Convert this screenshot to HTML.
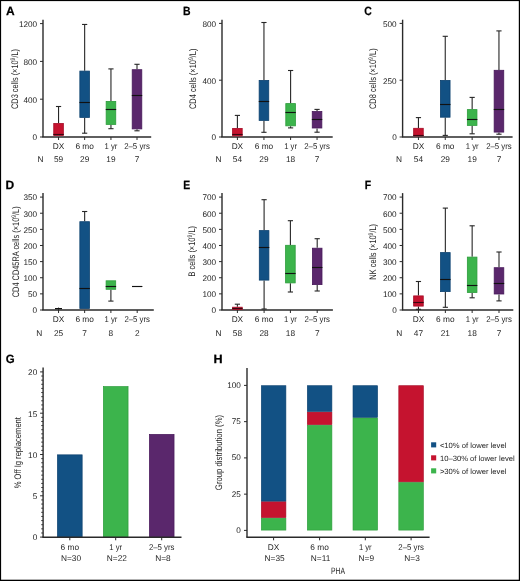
<!DOCTYPE html>
<html><head><meta charset="utf-8"><style>
html,body{margin:0;padding:0;background:#fff;}
#fig{position:relative;width:520px;height:581px;overflow:hidden;background:#fff;}
svg{position:absolute;left:0;top:0;will-change:transform;}
text{font-family:"Liberation Sans", sans-serif;text-rendering:geometricPrecision;}
</style></head><body>
<div id="fig"><svg width="520" height="581" viewBox="0 0 520 581">
<text transform="translate(6.00,15.1) scale(1.0,1)" font-size="12" font-weight="bold" fill="#000" stroke="#000" stroke-width="0.25">A</text>
<line x1="43.00" y1="19.70" x2="43.00" y2="137.00" stroke="#2a2a2a" stroke-width="1.4"/>
<line x1="40.00" y1="137.00" x2="43.00" y2="137.00" stroke="#2a2a2a" stroke-width="1.0"/>
<text x="37.10" y="140.36" font-size="8.2" text-anchor="end" font-weight="normal" fill="#1e1e1e">0</text>
<line x1="40.00" y1="99.20" x2="43.00" y2="99.20" stroke="#2a2a2a" stroke-width="1.0"/>
<text x="37.10" y="102.56" font-size="8.2" text-anchor="end" font-weight="normal" fill="#1e1e1e">400</text>
<line x1="40.00" y1="61.40" x2="43.00" y2="61.40" stroke="#2a2a2a" stroke-width="1.0"/>
<text x="37.10" y="64.76" font-size="8.2" text-anchor="end" font-weight="normal" fill="#1e1e1e">800</text>
<line x1="40.00" y1="23.60" x2="43.00" y2="23.60" stroke="#2a2a2a" stroke-width="1.0"/>
<text x="37.10" y="26.96" font-size="8.2" text-anchor="end" font-weight="normal" fill="#1e1e1e">1200</text>
<line x1="42.30" y1="137.00" x2="151.20" y2="137.00" stroke="#2a2a2a" stroke-width="1.4"/>
<line x1="58.55" y1="137.00" x2="58.55" y2="140.00" stroke="#2a2a2a" stroke-width="1.0"/>
<line x1="84.65" y1="137.00" x2="84.65" y2="140.00" stroke="#2a2a2a" stroke-width="1.0"/>
<line x1="110.95" y1="137.00" x2="110.95" y2="140.00" stroke="#2a2a2a" stroke-width="1.0"/>
<line x1="137.00" y1="137.00" x2="137.00" y2="140.00" stroke="#2a2a2a" stroke-width="1.0"/>
<line x1="58.55" y1="106.50" x2="58.55" y2="123.10" stroke="#262626" stroke-width="1.1"/>
<line x1="55.95" y1="106.50" x2="61.15" y2="106.50" stroke="#262626" stroke-width="1.1"/>
<rect x="53.75" y="123.50" width="9.60" height="12.00" fill="#c5132f" stroke="#a50b25" stroke-width="0.8"/>
<line x1="53.35" y1="134.50" x2="63.75" y2="134.50" stroke="#3a0610" stroke-width="1.15"/>
<line x1="84.65" y1="24.45" x2="84.65" y2="70.70" stroke="#262626" stroke-width="1.1"/>
<line x1="82.05" y1="24.45" x2="87.25" y2="24.45" stroke="#262626" stroke-width="1.1"/>
<line x1="84.65" y1="117.80" x2="84.65" y2="133.20" stroke="#262626" stroke-width="1.1"/>
<line x1="82.05" y1="133.20" x2="87.25" y2="133.20" stroke="#262626" stroke-width="1.1"/>
<rect x="79.85" y="71.10" width="9.60" height="46.30" fill="#125184" stroke="#0c416f" stroke-width="0.8"/>
<line x1="79.45" y1="102.50" x2="89.85" y2="102.50" stroke="#111" stroke-width="1.15"/>
<line x1="110.95" y1="68.90" x2="110.95" y2="101.00" stroke="#262626" stroke-width="1.1"/>
<line x1="108.35" y1="68.90" x2="113.55" y2="68.90" stroke="#262626" stroke-width="1.1"/>
<line x1="110.95" y1="124.80" x2="110.95" y2="128.70" stroke="#262626" stroke-width="1.1"/>
<line x1="108.35" y1="128.70" x2="113.55" y2="128.70" stroke="#262626" stroke-width="1.1"/>
<rect x="106.15" y="101.40" width="9.60" height="23.00" fill="#3cb44c" stroke="#2c9c3b" stroke-width="0.8"/>
<line x1="105.75" y1="109.50" x2="116.15" y2="109.50" stroke="#111" stroke-width="1.15"/>
<line x1="137.00" y1="64.30" x2="137.00" y2="69.30" stroke="#262626" stroke-width="1.1"/>
<line x1="134.40" y1="64.30" x2="139.60" y2="64.30" stroke="#262626" stroke-width="1.1"/>
<line x1="137.00" y1="129.30" x2="137.00" y2="130.80" stroke="#262626" stroke-width="1.1"/>
<line x1="134.40" y1="130.80" x2="139.60" y2="130.80" stroke="#262626" stroke-width="1.1"/>
<rect x="132.20" y="69.70" width="9.60" height="59.20" fill="#5a276c" stroke="#48195a" stroke-width="0.8"/>
<line x1="131.80" y1="95.50" x2="142.20" y2="95.50" stroke="#111" stroke-width="1.15"/>
<text x="58.55" y="149.40" font-size="8.3" text-anchor="middle" font-weight="normal" fill="#1e1e1e">DX</text>
<text x="84.65" y="149.40" font-size="8.3" text-anchor="middle" font-weight="normal" fill="#1e1e1e">6 mo</text>
<text x="110.95" y="149.40" font-size="8.3" text-anchor="middle" font-weight="normal" fill="#1e1e1e" textLength="12.8" lengthAdjust="spacingAndGlyphs">1 yr</text>
<text x="137.00" y="149.40" font-size="8.3" text-anchor="middle" font-weight="normal" fill="#1e1e1e" textLength="25.6" lengthAdjust="spacingAndGlyphs">2–5 yrs</text>
<text x="43.60" y="161.70" font-size="8.3" text-anchor="end" font-weight="normal" fill="#1e1e1e">N</text>
<text x="58.55" y="161.70" font-size="8.3" text-anchor="middle" font-weight="normal" fill="#1e1e1e">59</text>
<text x="84.65" y="161.70" font-size="8.3" text-anchor="middle" font-weight="normal" fill="#1e1e1e">29</text>
<text x="110.95" y="161.70" font-size="8.3" text-anchor="middle" font-weight="normal" fill="#1e1e1e">19</text>
<text x="137.00" y="161.70" font-size="8.3" text-anchor="middle" font-weight="normal" fill="#1e1e1e">7</text>
<text transform="translate(17.9,79.0) rotate(-90)" font-size="9.5" text-anchor="middle" fill="#1e1e1e" textLength="60" lengthAdjust="spacingAndGlyphs">CD3 cells (×10<tspan dy="-3.0" font-size="6.46">9</tspan><tspan dy="3.0">/L)</tspan></text>
<text transform="translate(182.90,15.1) scale(0.87,1)" font-size="12" font-weight="bold" fill="#000" stroke="#000" stroke-width="0.25">B</text>
<line x1="222.00" y1="19.70" x2="222.00" y2="137.00" stroke="#2a2a2a" stroke-width="1.4"/>
<line x1="219.00" y1="137.00" x2="222.00" y2="137.00" stroke="#2a2a2a" stroke-width="1.0"/>
<text x="216.10" y="140.36" font-size="8.2" text-anchor="end" font-weight="normal" fill="#1e1e1e">0</text>
<line x1="219.00" y1="80.20" x2="222.00" y2="80.20" stroke="#2a2a2a" stroke-width="1.0"/>
<text x="216.10" y="83.56" font-size="8.2" text-anchor="end" font-weight="normal" fill="#1e1e1e">400</text>
<line x1="219.00" y1="23.40" x2="222.00" y2="23.40" stroke="#2a2a2a" stroke-width="1.0"/>
<text x="216.10" y="26.76" font-size="8.2" text-anchor="end" font-weight="normal" fill="#1e1e1e">800</text>
<line x1="221.30" y1="137.00" x2="332.70" y2="137.00" stroke="#2a2a2a" stroke-width="1.4"/>
<line x1="237.40" y1="137.00" x2="237.40" y2="140.00" stroke="#2a2a2a" stroke-width="1.0"/>
<line x1="263.95" y1="137.00" x2="263.95" y2="140.00" stroke="#2a2a2a" stroke-width="1.0"/>
<line x1="290.60" y1="137.00" x2="290.60" y2="140.00" stroke="#2a2a2a" stroke-width="1.0"/>
<line x1="317.05" y1="137.00" x2="317.05" y2="140.00" stroke="#2a2a2a" stroke-width="1.0"/>
<line x1="237.40" y1="115.40" x2="237.40" y2="128.00" stroke="#262626" stroke-width="1.1"/>
<line x1="234.80" y1="115.40" x2="240.00" y2="115.40" stroke="#262626" stroke-width="1.1"/>
<rect x="232.60" y="128.40" width="9.60" height="7.50" fill="#c5132f" stroke="#a50b25" stroke-width="0.8"/>
<line x1="232.20" y1="134.50" x2="242.60" y2="134.50" stroke="#3a0610" stroke-width="1.15"/>
<line x1="263.95" y1="22.50" x2="263.95" y2="80.00" stroke="#262626" stroke-width="1.1"/>
<line x1="261.35" y1="22.50" x2="266.55" y2="22.50" stroke="#262626" stroke-width="1.1"/>
<line x1="263.95" y1="120.80" x2="263.95" y2="132.30" stroke="#262626" stroke-width="1.1"/>
<line x1="261.35" y1="132.30" x2="266.55" y2="132.30" stroke="#262626" stroke-width="1.1"/>
<rect x="259.15" y="80.40" width="9.60" height="40.00" fill="#125184" stroke="#0c416f" stroke-width="0.8"/>
<line x1="258.75" y1="101.50" x2="269.15" y2="101.50" stroke="#111" stroke-width="1.15"/>
<line x1="290.60" y1="70.50" x2="290.60" y2="103.20" stroke="#262626" stroke-width="1.1"/>
<line x1="288.00" y1="70.50" x2="293.20" y2="70.50" stroke="#262626" stroke-width="1.1"/>
<line x1="290.60" y1="126.25" x2="290.60" y2="127.90" stroke="#262626" stroke-width="1.1"/>
<line x1="288.00" y1="127.90" x2="293.20" y2="127.90" stroke="#262626" stroke-width="1.1"/>
<rect x="285.80" y="103.60" width="9.60" height="22.25" fill="#3cb44c" stroke="#2c9c3b" stroke-width="0.8"/>
<line x1="285.40" y1="112.50" x2="295.80" y2="112.50" stroke="#111" stroke-width="1.15"/>
<line x1="317.05" y1="109.40" x2="317.05" y2="111.15" stroke="#262626" stroke-width="1.1"/>
<line x1="314.45" y1="109.40" x2="319.65" y2="109.40" stroke="#262626" stroke-width="1.1"/>
<line x1="317.05" y1="128.40" x2="317.05" y2="132.20" stroke="#262626" stroke-width="1.1"/>
<line x1="314.45" y1="132.20" x2="319.65" y2="132.20" stroke="#262626" stroke-width="1.1"/>
<rect x="312.25" y="111.55" width="9.60" height="16.45" fill="#5a276c" stroke="#48195a" stroke-width="0.8"/>
<line x1="311.85" y1="119.50" x2="322.25" y2="119.50" stroke="#111" stroke-width="1.15"/>
<text x="237.40" y="149.40" font-size="8.3" text-anchor="middle" font-weight="normal" fill="#1e1e1e">DX</text>
<text x="263.95" y="149.40" font-size="8.3" text-anchor="middle" font-weight="normal" fill="#1e1e1e">6 mo</text>
<text x="290.60" y="149.40" font-size="8.3" text-anchor="middle" font-weight="normal" fill="#1e1e1e" textLength="12.8" lengthAdjust="spacingAndGlyphs">1 yr</text>
<text x="317.05" y="149.40" font-size="8.3" text-anchor="middle" font-weight="normal" fill="#1e1e1e" textLength="25.6" lengthAdjust="spacingAndGlyphs">2–5 yrs</text>
<text x="221.60" y="161.70" font-size="8.3" text-anchor="end" font-weight="normal" fill="#1e1e1e">N</text>
<text x="237.40" y="161.70" font-size="8.3" text-anchor="middle" font-weight="normal" fill="#1e1e1e">54</text>
<text x="263.95" y="161.70" font-size="8.3" text-anchor="middle" font-weight="normal" fill="#1e1e1e">29</text>
<text x="290.60" y="161.70" font-size="8.3" text-anchor="middle" font-weight="normal" fill="#1e1e1e">18</text>
<text x="317.05" y="161.70" font-size="8.3" text-anchor="middle" font-weight="normal" fill="#1e1e1e">7</text>
<text transform="translate(196.3,78.8) rotate(-90)" font-size="9.5" text-anchor="middle" fill="#1e1e1e" textLength="60.4" lengthAdjust="spacingAndGlyphs">CD4 cells (×10<tspan dy="-3.0" font-size="6.46">9</tspan><tspan dy="3.0">/L)</tspan></text>
<text transform="translate(364.30,15.1) scale(0.87,1)" font-size="12" font-weight="bold" fill="#000" stroke="#000" stroke-width="0.25">C</text>
<line x1="402.60" y1="19.70" x2="402.60" y2="137.00" stroke="#2a2a2a" stroke-width="1.4"/>
<line x1="399.60" y1="137.00" x2="402.60" y2="137.00" stroke="#2a2a2a" stroke-width="1.0"/>
<text x="396.70" y="140.36" font-size="8.2" text-anchor="end" font-weight="normal" fill="#1e1e1e">0</text>
<line x1="399.60" y1="80.20" x2="402.60" y2="80.20" stroke="#2a2a2a" stroke-width="1.0"/>
<text x="396.70" y="83.56" font-size="8.2" text-anchor="end" font-weight="normal" fill="#1e1e1e">250</text>
<line x1="399.60" y1="23.40" x2="402.60" y2="23.40" stroke="#2a2a2a" stroke-width="1.0"/>
<text x="396.70" y="26.76" font-size="8.2" text-anchor="end" font-weight="normal" fill="#1e1e1e">500</text>
<line x1="401.90" y1="137.00" x2="512.60" y2="137.00" stroke="#2a2a2a" stroke-width="1.4"/>
<line x1="418.45" y1="137.00" x2="418.45" y2="140.00" stroke="#2a2a2a" stroke-width="1.0"/>
<line x1="445.25" y1="137.00" x2="445.25" y2="140.00" stroke="#2a2a2a" stroke-width="1.0"/>
<line x1="472.15" y1="137.00" x2="472.15" y2="140.00" stroke="#2a2a2a" stroke-width="1.0"/>
<line x1="498.95" y1="137.00" x2="498.95" y2="140.00" stroke="#2a2a2a" stroke-width="1.0"/>
<line x1="418.45" y1="117.60" x2="418.45" y2="127.90" stroke="#262626" stroke-width="1.1"/>
<line x1="415.85" y1="117.60" x2="421.05" y2="117.60" stroke="#262626" stroke-width="1.1"/>
<rect x="413.65" y="128.30" width="9.60" height="7.60" fill="#c5132f" stroke="#a50b25" stroke-width="0.8"/>
<line x1="413.25" y1="135.50" x2="423.65" y2="135.50" stroke="#3a0610" stroke-width="1.15"/>
<line x1="445.25" y1="36.30" x2="445.25" y2="80.00" stroke="#262626" stroke-width="1.1"/>
<line x1="442.65" y1="36.30" x2="447.85" y2="36.30" stroke="#262626" stroke-width="1.1"/>
<line x1="445.25" y1="117.60" x2="445.25" y2="135.40" stroke="#262626" stroke-width="1.1"/>
<line x1="442.65" y1="135.40" x2="447.85" y2="135.40" stroke="#262626" stroke-width="1.1"/>
<rect x="440.45" y="80.40" width="9.60" height="36.80" fill="#125184" stroke="#0c416f" stroke-width="0.8"/>
<line x1="440.05" y1="104.50" x2="450.45" y2="104.50" stroke="#111" stroke-width="1.15"/>
<line x1="472.15" y1="97.40" x2="472.15" y2="109.20" stroke="#262626" stroke-width="1.1"/>
<line x1="469.55" y1="97.40" x2="474.75" y2="97.40" stroke="#262626" stroke-width="1.1"/>
<line x1="472.15" y1="125.80" x2="472.15" y2="133.80" stroke="#262626" stroke-width="1.1"/>
<line x1="469.55" y1="133.80" x2="474.75" y2="133.80" stroke="#262626" stroke-width="1.1"/>
<rect x="467.35" y="109.60" width="9.60" height="15.80" fill="#3cb44c" stroke="#2c9c3b" stroke-width="0.8"/>
<line x1="466.95" y1="119.50" x2="477.35" y2="119.50" stroke="#111" stroke-width="1.15"/>
<line x1="498.95" y1="30.90" x2="498.95" y2="69.90" stroke="#262626" stroke-width="1.1"/>
<line x1="496.35" y1="30.90" x2="501.55" y2="30.90" stroke="#262626" stroke-width="1.1"/>
<line x1="498.95" y1="132.50" x2="498.95" y2="134.20" stroke="#262626" stroke-width="1.1"/>
<line x1="496.35" y1="134.20" x2="501.55" y2="134.20" stroke="#262626" stroke-width="1.1"/>
<rect x="494.15" y="70.30" width="9.60" height="61.80" fill="#5a276c" stroke="#48195a" stroke-width="0.8"/>
<line x1="493.75" y1="109.50" x2="504.15" y2="109.50" stroke="#111" stroke-width="1.15"/>
<text x="418.45" y="149.40" font-size="8.3" text-anchor="middle" font-weight="normal" fill="#1e1e1e">DX</text>
<text x="445.25" y="149.40" font-size="8.3" text-anchor="middle" font-weight="normal" fill="#1e1e1e">6 mo</text>
<text x="472.15" y="149.40" font-size="8.3" text-anchor="middle" font-weight="normal" fill="#1e1e1e" textLength="12.8" lengthAdjust="spacingAndGlyphs">1 yr</text>
<text x="498.95" y="149.40" font-size="8.3" text-anchor="middle" font-weight="normal" fill="#1e1e1e" textLength="25.6" lengthAdjust="spacingAndGlyphs">2–5 yrs</text>
<text x="401.90" y="161.70" font-size="8.3" text-anchor="end" font-weight="normal" fill="#1e1e1e">N</text>
<text x="418.45" y="161.70" font-size="8.3" text-anchor="middle" font-weight="normal" fill="#1e1e1e">54</text>
<text x="445.25" y="161.70" font-size="8.3" text-anchor="middle" font-weight="normal" fill="#1e1e1e">29</text>
<text x="472.15" y="161.70" font-size="8.3" text-anchor="middle" font-weight="normal" fill="#1e1e1e">19</text>
<text x="498.95" y="161.70" font-size="8.3" text-anchor="middle" font-weight="normal" fill="#1e1e1e">7</text>
<text transform="translate(376.3,78.7) rotate(-90)" font-size="9.5" text-anchor="middle" fill="#1e1e1e" textLength="60.7" lengthAdjust="spacingAndGlyphs">CD8 cells (×10<tspan dy="-3.0" font-size="6.46">9</tspan><tspan dy="3.0">/L)</tspan></text>
<text transform="translate(5.50,189.3) scale(1.0,1)" font-size="12" font-weight="bold" fill="#000" stroke="#000" stroke-width="0.25">D</text>
<line x1="43.00" y1="193.10" x2="43.00" y2="310.00" stroke="#2a2a2a" stroke-width="1.4"/>
<line x1="40.00" y1="310.00" x2="43.00" y2="310.00" stroke="#2a2a2a" stroke-width="1.0"/>
<text x="37.10" y="313.36" font-size="8.2" text-anchor="end" font-weight="normal" fill="#1e1e1e">0</text>
<line x1="40.00" y1="293.87" x2="43.00" y2="293.87" stroke="#2a2a2a" stroke-width="1.0"/>
<text x="37.10" y="297.23" font-size="8.2" text-anchor="end" font-weight="normal" fill="#1e1e1e">50</text>
<line x1="40.00" y1="277.74" x2="43.00" y2="277.74" stroke="#2a2a2a" stroke-width="1.0"/>
<text x="37.10" y="281.10" font-size="8.2" text-anchor="end" font-weight="normal" fill="#1e1e1e">100</text>
<line x1="40.00" y1="261.61" x2="43.00" y2="261.61" stroke="#2a2a2a" stroke-width="1.0"/>
<text x="37.10" y="264.98" font-size="8.2" text-anchor="end" font-weight="normal" fill="#1e1e1e">150</text>
<line x1="40.00" y1="245.49" x2="43.00" y2="245.49" stroke="#2a2a2a" stroke-width="1.0"/>
<text x="37.10" y="248.85" font-size="8.2" text-anchor="end" font-weight="normal" fill="#1e1e1e">200</text>
<line x1="40.00" y1="229.36" x2="43.00" y2="229.36" stroke="#2a2a2a" stroke-width="1.0"/>
<text x="37.10" y="232.72" font-size="8.2" text-anchor="end" font-weight="normal" fill="#1e1e1e">250</text>
<line x1="40.00" y1="213.23" x2="43.00" y2="213.23" stroke="#2a2a2a" stroke-width="1.0"/>
<text x="37.10" y="216.59" font-size="8.2" text-anchor="end" font-weight="normal" fill="#1e1e1e">300</text>
<line x1="40.00" y1="197.10" x2="43.00" y2="197.10" stroke="#2a2a2a" stroke-width="1.0"/>
<text x="37.10" y="200.46" font-size="8.2" text-anchor="end" font-weight="normal" fill="#1e1e1e">350</text>
<line x1="42.30" y1="310.00" x2="153.80" y2="310.00" stroke="#2a2a2a" stroke-width="1.4"/>
<line x1="58.55" y1="310.00" x2="58.55" y2="313.00" stroke="#2a2a2a" stroke-width="1.0"/>
<line x1="84.65" y1="310.00" x2="84.65" y2="313.00" stroke="#2a2a2a" stroke-width="1.0"/>
<line x1="110.90" y1="310.00" x2="110.90" y2="313.00" stroke="#2a2a2a" stroke-width="1.0"/>
<line x1="137.20" y1="310.00" x2="137.20" y2="313.00" stroke="#2a2a2a" stroke-width="1.0"/>
<line x1="84.65" y1="211.50" x2="84.65" y2="221.30" stroke="#262626" stroke-width="1.1"/>
<line x1="82.05" y1="211.50" x2="87.25" y2="211.50" stroke="#262626" stroke-width="1.1"/>
<rect x="79.85" y="221.70" width="9.60" height="86.80" fill="#125184" stroke="#0c416f" stroke-width="0.8"/>
<line x1="79.45" y1="288.50" x2="89.85" y2="288.50" stroke="#111" stroke-width="1.15"/>
<line x1="110.90" y1="289.70" x2="110.90" y2="301.10" stroke="#262626" stroke-width="1.1"/>
<line x1="108.30" y1="301.10" x2="113.50" y2="301.10" stroke="#262626" stroke-width="1.1"/>
<rect x="106.10" y="280.80" width="9.60" height="8.50" fill="#3cb44c" stroke="#2c9c3b" stroke-width="0.8"/>
<line x1="105.70" y1="286.50" x2="116.10" y2="286.50" stroke="#111" stroke-width="1.15"/>
<line x1="132.00" y1="286.50" x2="142.40" y2="286.50" stroke="#111" stroke-width="1.15"/>
<text x="58.55" y="322.00" font-size="8.3" text-anchor="middle" font-weight="normal" fill="#1e1e1e">DX</text>
<text x="84.65" y="322.00" font-size="8.3" text-anchor="middle" font-weight="normal" fill="#1e1e1e">6 mo</text>
<text x="110.90" y="322.00" font-size="8.3" text-anchor="middle" font-weight="normal" fill="#1e1e1e" textLength="12.8" lengthAdjust="spacingAndGlyphs">1 yr</text>
<text x="137.20" y="322.00" font-size="8.3" text-anchor="middle" font-weight="normal" fill="#1e1e1e" textLength="25.6" lengthAdjust="spacingAndGlyphs">2–5 yrs</text>
<text x="42.30" y="336.10" font-size="8.3" text-anchor="end" font-weight="normal" fill="#1e1e1e">N</text>
<text x="58.55" y="336.10" font-size="8.3" text-anchor="middle" font-weight="normal" fill="#1e1e1e">25</text>
<text x="84.65" y="336.10" font-size="8.3" text-anchor="middle" font-weight="normal" fill="#1e1e1e">7</text>
<text x="110.90" y="336.10" font-size="8.3" text-anchor="middle" font-weight="normal" fill="#1e1e1e">8</text>
<text x="137.20" y="336.10" font-size="8.3" text-anchor="middle" font-weight="normal" fill="#1e1e1e">2</text>
<text transform="translate(18.6,251.8) rotate(-90)" font-size="9.5" text-anchor="middle" fill="#1e1e1e" textLength="91" lengthAdjust="spacingAndGlyphs">CD4 CD45RA cells (×10<tspan dy="-3.0" font-size="6.46">9</tspan><tspan dy="3.0">/L)</tspan></text>
<line x1="55.00" y1="308.60" x2="62.00" y2="308.60" stroke="#111" stroke-width="1.2"/>
<line x1="58.55" y1="307.60" x2="58.55" y2="309.50" stroke="#111" stroke-width="1.0"/>
<text transform="translate(183.30,189.3) scale(0.87,1)" font-size="12" font-weight="bold" fill="#000" stroke="#000" stroke-width="0.25">E</text>
<line x1="222.00" y1="193.10" x2="222.00" y2="310.00" stroke="#2a2a2a" stroke-width="1.4"/>
<line x1="219.00" y1="310.00" x2="222.00" y2="310.00" stroke="#2a2a2a" stroke-width="1.0"/>
<text x="216.10" y="313.36" font-size="8.2" text-anchor="end" font-weight="normal" fill="#1e1e1e">0</text>
<line x1="219.00" y1="293.87" x2="222.00" y2="293.87" stroke="#2a2a2a" stroke-width="1.0"/>
<text x="216.10" y="297.23" font-size="8.2" text-anchor="end" font-weight="normal" fill="#1e1e1e">100</text>
<line x1="219.00" y1="277.74" x2="222.00" y2="277.74" stroke="#2a2a2a" stroke-width="1.0"/>
<text x="216.10" y="281.10" font-size="8.2" text-anchor="end" font-weight="normal" fill="#1e1e1e">200</text>
<line x1="219.00" y1="261.61" x2="222.00" y2="261.61" stroke="#2a2a2a" stroke-width="1.0"/>
<text x="216.10" y="264.98" font-size="8.2" text-anchor="end" font-weight="normal" fill="#1e1e1e">300</text>
<line x1="219.00" y1="245.49" x2="222.00" y2="245.49" stroke="#2a2a2a" stroke-width="1.0"/>
<text x="216.10" y="248.85" font-size="8.2" text-anchor="end" font-weight="normal" fill="#1e1e1e">400</text>
<line x1="219.00" y1="229.36" x2="222.00" y2="229.36" stroke="#2a2a2a" stroke-width="1.0"/>
<text x="216.10" y="232.72" font-size="8.2" text-anchor="end" font-weight="normal" fill="#1e1e1e">500</text>
<line x1="219.00" y1="213.23" x2="222.00" y2="213.23" stroke="#2a2a2a" stroke-width="1.0"/>
<text x="216.10" y="216.59" font-size="8.2" text-anchor="end" font-weight="normal" fill="#1e1e1e">600</text>
<line x1="219.00" y1="197.10" x2="222.00" y2="197.10" stroke="#2a2a2a" stroke-width="1.0"/>
<text x="216.10" y="200.46" font-size="8.2" text-anchor="end" font-weight="normal" fill="#1e1e1e">700</text>
<line x1="221.30" y1="310.00" x2="332.90" y2="310.00" stroke="#2a2a2a" stroke-width="1.4"/>
<line x1="237.40" y1="310.00" x2="237.40" y2="313.00" stroke="#2a2a2a" stroke-width="1.0"/>
<line x1="264.10" y1="310.00" x2="264.10" y2="313.00" stroke="#2a2a2a" stroke-width="1.0"/>
<line x1="290.40" y1="310.00" x2="290.40" y2="313.00" stroke="#2a2a2a" stroke-width="1.0"/>
<line x1="317.20" y1="310.00" x2="317.20" y2="313.00" stroke="#2a2a2a" stroke-width="1.0"/>
<line x1="237.40" y1="304.20" x2="237.40" y2="306.80" stroke="#262626" stroke-width="1.1"/>
<line x1="234.80" y1="304.20" x2="240.00" y2="304.20" stroke="#262626" stroke-width="1.1"/>
<rect x="232.60" y="307.20" width="9.60" height="2.30" fill="#c5132f" stroke="#a50b25" stroke-width="0.8"/>
<line x1="232.20" y1="308.50" x2="242.60" y2="308.50" stroke="#3a0610" stroke-width="1.15"/>
<line x1="264.10" y1="199.70" x2="264.10" y2="230.20" stroke="#262626" stroke-width="1.1"/>
<line x1="261.50" y1="199.70" x2="266.70" y2="199.70" stroke="#262626" stroke-width="1.1"/>
<line x1="264.10" y1="280.50" x2="264.10" y2="309.00" stroke="#262626" stroke-width="1.1"/>
<line x1="261.50" y1="309.00" x2="266.70" y2="309.00" stroke="#262626" stroke-width="1.1"/>
<rect x="259.30" y="230.60" width="9.60" height="49.50" fill="#125184" stroke="#0c416f" stroke-width="0.8"/>
<line x1="258.90" y1="247.50" x2="269.30" y2="247.50" stroke="#111" stroke-width="1.15"/>
<line x1="290.40" y1="220.70" x2="290.40" y2="244.90" stroke="#262626" stroke-width="1.1"/>
<line x1="287.80" y1="220.70" x2="293.00" y2="220.70" stroke="#262626" stroke-width="1.1"/>
<line x1="290.40" y1="283.30" x2="290.40" y2="292.00" stroke="#262626" stroke-width="1.1"/>
<line x1="287.80" y1="292.00" x2="293.00" y2="292.00" stroke="#262626" stroke-width="1.1"/>
<rect x="285.60" y="245.30" width="9.60" height="37.60" fill="#3cb44c" stroke="#2c9c3b" stroke-width="0.8"/>
<line x1="285.20" y1="273.50" x2="295.60" y2="273.50" stroke="#111" stroke-width="1.15"/>
<line x1="317.20" y1="238.70" x2="317.20" y2="247.80" stroke="#262626" stroke-width="1.1"/>
<line x1="314.60" y1="238.70" x2="319.80" y2="238.70" stroke="#262626" stroke-width="1.1"/>
<line x1="317.20" y1="285.00" x2="317.20" y2="291.00" stroke="#262626" stroke-width="1.1"/>
<line x1="314.60" y1="291.00" x2="319.80" y2="291.00" stroke="#262626" stroke-width="1.1"/>
<rect x="312.40" y="248.20" width="9.60" height="36.40" fill="#5a276c" stroke="#48195a" stroke-width="0.8"/>
<line x1="312.00" y1="267.50" x2="322.40" y2="267.50" stroke="#111" stroke-width="1.15"/>
<text x="237.40" y="322.00" font-size="8.3" text-anchor="middle" font-weight="normal" fill="#1e1e1e">DX</text>
<text x="264.10" y="322.00" font-size="8.3" text-anchor="middle" font-weight="normal" fill="#1e1e1e">6 mo</text>
<text x="290.40" y="322.00" font-size="8.3" text-anchor="middle" font-weight="normal" fill="#1e1e1e" textLength="12.8" lengthAdjust="spacingAndGlyphs">1 yr</text>
<text x="317.20" y="322.00" font-size="8.3" text-anchor="middle" font-weight="normal" fill="#1e1e1e" textLength="25.6" lengthAdjust="spacingAndGlyphs">2–5 yrs</text>
<text x="221.60" y="336.10" font-size="8.3" text-anchor="end" font-weight="normal" fill="#1e1e1e">N</text>
<text x="237.40" y="336.10" font-size="8.3" text-anchor="middle" font-weight="normal" fill="#1e1e1e">58</text>
<text x="264.10" y="336.10" font-size="8.3" text-anchor="middle" font-weight="normal" fill="#1e1e1e">28</text>
<text x="290.40" y="336.10" font-size="8.3" text-anchor="middle" font-weight="normal" fill="#1e1e1e">18</text>
<text x="317.20" y="336.10" font-size="8.3" text-anchor="middle" font-weight="normal" fill="#1e1e1e">7</text>
<text transform="translate(194.5,251.3) rotate(-90)" font-size="9.5" text-anchor="middle" fill="#1e1e1e" textLength="50.6" lengthAdjust="spacingAndGlyphs">B cells (×10<tspan dy="-3.0" font-size="6.46">9</tspan><tspan dy="3.0">/L)</tspan></text>
<text transform="translate(364.70,189.3) scale(0.87,1)" font-size="12" font-weight="bold" fill="#000" stroke="#000" stroke-width="0.25">F</text>
<line x1="402.60" y1="193.10" x2="402.60" y2="310.00" stroke="#2a2a2a" stroke-width="1.4"/>
<line x1="399.60" y1="310.00" x2="402.60" y2="310.00" stroke="#2a2a2a" stroke-width="1.0"/>
<text x="396.70" y="313.36" font-size="8.2" text-anchor="end" font-weight="normal" fill="#1e1e1e">0</text>
<line x1="399.60" y1="293.87" x2="402.60" y2="293.87" stroke="#2a2a2a" stroke-width="1.0"/>
<text x="396.70" y="297.23" font-size="8.2" text-anchor="end" font-weight="normal" fill="#1e1e1e">100</text>
<line x1="399.60" y1="277.74" x2="402.60" y2="277.74" stroke="#2a2a2a" stroke-width="1.0"/>
<text x="396.70" y="281.10" font-size="8.2" text-anchor="end" font-weight="normal" fill="#1e1e1e">200</text>
<line x1="399.60" y1="261.61" x2="402.60" y2="261.61" stroke="#2a2a2a" stroke-width="1.0"/>
<text x="396.70" y="264.98" font-size="8.2" text-anchor="end" font-weight="normal" fill="#1e1e1e">300</text>
<line x1="399.60" y1="245.49" x2="402.60" y2="245.49" stroke="#2a2a2a" stroke-width="1.0"/>
<text x="396.70" y="248.85" font-size="8.2" text-anchor="end" font-weight="normal" fill="#1e1e1e">400</text>
<line x1="399.60" y1="229.36" x2="402.60" y2="229.36" stroke="#2a2a2a" stroke-width="1.0"/>
<text x="396.70" y="232.72" font-size="8.2" text-anchor="end" font-weight="normal" fill="#1e1e1e">500</text>
<line x1="399.60" y1="213.23" x2="402.60" y2="213.23" stroke="#2a2a2a" stroke-width="1.0"/>
<text x="396.70" y="216.59" font-size="8.2" text-anchor="end" font-weight="normal" fill="#1e1e1e">600</text>
<line x1="399.60" y1="197.10" x2="402.60" y2="197.10" stroke="#2a2a2a" stroke-width="1.0"/>
<text x="396.70" y="200.46" font-size="8.2" text-anchor="end" font-weight="normal" fill="#1e1e1e">700</text>
<line x1="401.90" y1="310.00" x2="513.30" y2="310.00" stroke="#2a2a2a" stroke-width="1.4"/>
<line x1="418.45" y1="310.00" x2="418.45" y2="313.00" stroke="#2a2a2a" stroke-width="1.0"/>
<line x1="445.35" y1="310.00" x2="445.35" y2="313.00" stroke="#2a2a2a" stroke-width="1.0"/>
<line x1="472.15" y1="310.00" x2="472.15" y2="313.00" stroke="#2a2a2a" stroke-width="1.0"/>
<line x1="499.00" y1="310.00" x2="499.00" y2="313.00" stroke="#2a2a2a" stroke-width="1.0"/>
<line x1="418.45" y1="281.50" x2="418.45" y2="295.50" stroke="#262626" stroke-width="1.1"/>
<line x1="415.85" y1="281.50" x2="421.05" y2="281.50" stroke="#262626" stroke-width="1.1"/>
<line x1="418.45" y1="306.50" x2="418.45" y2="309.30" stroke="#262626" stroke-width="1.1"/>
<line x1="415.85" y1="309.30" x2="421.05" y2="309.30" stroke="#262626" stroke-width="1.1"/>
<rect x="413.65" y="295.90" width="9.60" height="10.20" fill="#c5132f" stroke="#a50b25" stroke-width="0.8"/>
<line x1="413.25" y1="302.50" x2="423.65" y2="302.50" stroke="#3a0610" stroke-width="1.15"/>
<line x1="445.35" y1="208.10" x2="445.35" y2="252.20" stroke="#262626" stroke-width="1.1"/>
<line x1="442.75" y1="208.10" x2="447.95" y2="208.10" stroke="#262626" stroke-width="1.1"/>
<line x1="445.35" y1="292.00" x2="445.35" y2="307.30" stroke="#262626" stroke-width="1.1"/>
<line x1="442.75" y1="307.30" x2="447.95" y2="307.30" stroke="#262626" stroke-width="1.1"/>
<rect x="440.55" y="252.60" width="9.60" height="39.00" fill="#125184" stroke="#0c416f" stroke-width="0.8"/>
<line x1="440.15" y1="279.50" x2="450.55" y2="279.50" stroke="#111" stroke-width="1.15"/>
<line x1="472.15" y1="225.80" x2="472.15" y2="256.70" stroke="#262626" stroke-width="1.1"/>
<line x1="469.55" y1="225.80" x2="474.75" y2="225.80" stroke="#262626" stroke-width="1.1"/>
<line x1="472.15" y1="292.90" x2="472.15" y2="297.80" stroke="#262626" stroke-width="1.1"/>
<line x1="469.55" y1="297.80" x2="474.75" y2="297.80" stroke="#262626" stroke-width="1.1"/>
<rect x="467.35" y="257.10" width="9.60" height="35.40" fill="#3cb44c" stroke="#2c9c3b" stroke-width="0.8"/>
<line x1="466.95" y1="285.50" x2="477.35" y2="285.50" stroke="#111" stroke-width="1.15"/>
<line x1="499.00" y1="252.00" x2="499.00" y2="267.30" stroke="#262626" stroke-width="1.1"/>
<line x1="496.40" y1="252.00" x2="501.60" y2="252.00" stroke="#262626" stroke-width="1.1"/>
<line x1="499.00" y1="294.40" x2="499.00" y2="300.90" stroke="#262626" stroke-width="1.1"/>
<line x1="496.40" y1="300.90" x2="501.60" y2="300.90" stroke="#262626" stroke-width="1.1"/>
<rect x="494.20" y="267.70" width="9.60" height="26.30" fill="#5a276c" stroke="#48195a" stroke-width="0.8"/>
<line x1="493.80" y1="283.50" x2="504.20" y2="283.50" stroke="#111" stroke-width="1.15"/>
<text x="418.45" y="322.00" font-size="8.3" text-anchor="middle" font-weight="normal" fill="#1e1e1e">DX</text>
<text x="445.35" y="322.00" font-size="8.3" text-anchor="middle" font-weight="normal" fill="#1e1e1e">6 mo</text>
<text x="472.15" y="322.00" font-size="8.3" text-anchor="middle" font-weight="normal" fill="#1e1e1e" textLength="12.8" lengthAdjust="spacingAndGlyphs">1 yr</text>
<text x="499.00" y="322.00" font-size="8.3" text-anchor="middle" font-weight="normal" fill="#1e1e1e" textLength="25.6" lengthAdjust="spacingAndGlyphs">2–5 yrs</text>
<text x="402.20" y="336.10" font-size="8.3" text-anchor="end" font-weight="normal" fill="#1e1e1e">N</text>
<text x="418.45" y="336.10" font-size="8.3" text-anchor="middle" font-weight="normal" fill="#1e1e1e">47</text>
<text x="445.35" y="336.10" font-size="8.3" text-anchor="middle" font-weight="normal" fill="#1e1e1e">21</text>
<text x="472.15" y="336.10" font-size="8.3" text-anchor="middle" font-weight="normal" fill="#1e1e1e">18</text>
<text x="499.00" y="336.10" font-size="8.3" text-anchor="middle" font-weight="normal" fill="#1e1e1e">7</text>
<text transform="translate(376.0,251.8) rotate(-90)" font-size="9.5" text-anchor="middle" fill="#1e1e1e" textLength="55.8" lengthAdjust="spacingAndGlyphs">NK cells (×10<tspan dy="-3.0" font-size="6.46">9</tspan><tspan dy="3.0">/L)</tspan></text>
<text transform="translate(5.80,363.3) scale(0.95,1)" font-size="12" font-weight="bold" fill="#000" stroke="#000" stroke-width="0.25">G</text>
<line x1="43.10" y1="367.50" x2="43.10" y2="537.30" stroke="#2a2a2a" stroke-width="1.4"/>
<line x1="40.10" y1="537.10" x2="43.10" y2="537.10" stroke="#2a2a2a" stroke-width="1.0"/>
<text x="37.20" y="540.46" font-size="8.2" text-anchor="end" font-weight="normal" fill="#1e1e1e">0</text>
<line x1="40.10" y1="495.80" x2="43.10" y2="495.80" stroke="#2a2a2a" stroke-width="1.0"/>
<text x="37.20" y="499.16" font-size="8.2" text-anchor="end" font-weight="normal" fill="#1e1e1e">5</text>
<line x1="40.10" y1="454.50" x2="43.10" y2="454.50" stroke="#2a2a2a" stroke-width="1.0"/>
<text x="37.20" y="457.86" font-size="8.2" text-anchor="end" font-weight="normal" fill="#1e1e1e">10</text>
<line x1="40.10" y1="413.20" x2="43.10" y2="413.20" stroke="#2a2a2a" stroke-width="1.0"/>
<text x="37.20" y="416.56" font-size="8.2" text-anchor="end" font-weight="normal" fill="#1e1e1e">15</text>
<line x1="40.10" y1="371.90" x2="43.10" y2="371.90" stroke="#2a2a2a" stroke-width="1.0"/>
<text x="37.20" y="375.26" font-size="8.2" text-anchor="end" font-weight="normal" fill="#1e1e1e">20</text>
<line x1="41.20" y1="532.97" x2="43.10" y2="532.97" stroke="#2a2a2a" stroke-width="0.9"/>
<line x1="41.20" y1="528.84" x2="43.10" y2="528.84" stroke="#2a2a2a" stroke-width="0.9"/>
<line x1="41.20" y1="524.71" x2="43.10" y2="524.71" stroke="#2a2a2a" stroke-width="0.9"/>
<line x1="41.20" y1="520.58" x2="43.10" y2="520.58" stroke="#2a2a2a" stroke-width="0.9"/>
<line x1="41.20" y1="516.45" x2="43.10" y2="516.45" stroke="#2a2a2a" stroke-width="0.9"/>
<line x1="41.20" y1="512.32" x2="43.10" y2="512.32" stroke="#2a2a2a" stroke-width="0.9"/>
<line x1="41.20" y1="508.19" x2="43.10" y2="508.19" stroke="#2a2a2a" stroke-width="0.9"/>
<line x1="41.20" y1="504.06" x2="43.10" y2="504.06" stroke="#2a2a2a" stroke-width="0.9"/>
<line x1="41.20" y1="499.93" x2="43.10" y2="499.93" stroke="#2a2a2a" stroke-width="0.9"/>
<line x1="41.20" y1="491.67" x2="43.10" y2="491.67" stroke="#2a2a2a" stroke-width="0.9"/>
<line x1="41.20" y1="487.54" x2="43.10" y2="487.54" stroke="#2a2a2a" stroke-width="0.9"/>
<line x1="41.20" y1="483.41" x2="43.10" y2="483.41" stroke="#2a2a2a" stroke-width="0.9"/>
<line x1="41.20" y1="479.28" x2="43.10" y2="479.28" stroke="#2a2a2a" stroke-width="0.9"/>
<line x1="41.20" y1="475.15" x2="43.10" y2="475.15" stroke="#2a2a2a" stroke-width="0.9"/>
<line x1="41.20" y1="471.02" x2="43.10" y2="471.02" stroke="#2a2a2a" stroke-width="0.9"/>
<line x1="41.20" y1="466.89" x2="43.10" y2="466.89" stroke="#2a2a2a" stroke-width="0.9"/>
<line x1="41.20" y1="462.76" x2="43.10" y2="462.76" stroke="#2a2a2a" stroke-width="0.9"/>
<line x1="41.20" y1="458.63" x2="43.10" y2="458.63" stroke="#2a2a2a" stroke-width="0.9"/>
<line x1="41.20" y1="450.37" x2="43.10" y2="450.37" stroke="#2a2a2a" stroke-width="0.9"/>
<line x1="41.20" y1="446.24" x2="43.10" y2="446.24" stroke="#2a2a2a" stroke-width="0.9"/>
<line x1="41.20" y1="442.11" x2="43.10" y2="442.11" stroke="#2a2a2a" stroke-width="0.9"/>
<line x1="41.20" y1="437.98" x2="43.10" y2="437.98" stroke="#2a2a2a" stroke-width="0.9"/>
<line x1="41.20" y1="433.85" x2="43.10" y2="433.85" stroke="#2a2a2a" stroke-width="0.9"/>
<line x1="41.20" y1="429.72" x2="43.10" y2="429.72" stroke="#2a2a2a" stroke-width="0.9"/>
<line x1="41.20" y1="425.59" x2="43.10" y2="425.59" stroke="#2a2a2a" stroke-width="0.9"/>
<line x1="41.20" y1="421.46" x2="43.10" y2="421.46" stroke="#2a2a2a" stroke-width="0.9"/>
<line x1="41.20" y1="417.33" x2="43.10" y2="417.33" stroke="#2a2a2a" stroke-width="0.9"/>
<line x1="41.20" y1="409.07" x2="43.10" y2="409.07" stroke="#2a2a2a" stroke-width="0.9"/>
<line x1="41.20" y1="404.94" x2="43.10" y2="404.94" stroke="#2a2a2a" stroke-width="0.9"/>
<line x1="41.20" y1="400.81" x2="43.10" y2="400.81" stroke="#2a2a2a" stroke-width="0.9"/>
<line x1="41.20" y1="396.68" x2="43.10" y2="396.68" stroke="#2a2a2a" stroke-width="0.9"/>
<line x1="41.20" y1="392.55" x2="43.10" y2="392.55" stroke="#2a2a2a" stroke-width="0.9"/>
<line x1="41.20" y1="388.42" x2="43.10" y2="388.42" stroke="#2a2a2a" stroke-width="0.9"/>
<line x1="41.20" y1="384.29" x2="43.10" y2="384.29" stroke="#2a2a2a" stroke-width="0.9"/>
<line x1="41.20" y1="380.16" x2="43.10" y2="380.16" stroke="#2a2a2a" stroke-width="0.9"/>
<line x1="41.20" y1="376.03" x2="43.10" y2="376.03" stroke="#2a2a2a" stroke-width="0.9"/>
<rect x="57.45" y="454.85" width="24.70" height="82.10" fill="#125184" stroke="#0c416f" stroke-width="0.7"/>
<rect x="103.35" y="386.60" width="24.70" height="150.35" fill="#3cb44c" stroke="#2c9c3b" stroke-width="0.7"/>
<rect x="149.35" y="434.35" width="24.70" height="102.60" fill="#5a276c" stroke="#48195a" stroke-width="0.7"/>
<line x1="42.40" y1="537.30" x2="181.50" y2="537.30" stroke="#2a2a2a" stroke-width="1.4"/>
<line x1="69.80" y1="537.30" x2="69.80" y2="540.30" stroke="#2a2a2a" stroke-width="1.0"/>
<line x1="115.70" y1="537.30" x2="115.70" y2="540.30" stroke="#2a2a2a" stroke-width="1.0"/>
<line x1="161.70" y1="537.30" x2="161.70" y2="540.30" stroke="#2a2a2a" stroke-width="1.0"/>
<text x="69.80" y="550.10" font-size="8.3" text-anchor="middle" font-weight="normal" fill="#1e1e1e">6 mo</text>
<text x="71.00" y="560.60" font-size="8.3" text-anchor="middle" font-weight="normal" fill="#1e1e1e">N=30</text>
<text x="115.70" y="550.10" font-size="8.3" text-anchor="middle" font-weight="normal" fill="#1e1e1e" textLength="12.8" lengthAdjust="spacingAndGlyphs">1 yr</text>
<text x="116.90" y="560.60" font-size="8.3" text-anchor="middle" font-weight="normal" fill="#1e1e1e">N=22</text>
<text x="161.70" y="550.10" font-size="8.3" text-anchor="middle" font-weight="normal" fill="#1e1e1e" textLength="25.6" lengthAdjust="spacingAndGlyphs">2–5 yrs</text>
<text x="162.90" y="560.60" font-size="8.3" text-anchor="middle" font-weight="normal" fill="#1e1e1e">N=8</text>
<text transform="translate(21.0,452.7) rotate(-90)" font-size="9.5" text-anchor="middle" fill="#1e1e1e" textLength="71.3" lengthAdjust="spacingAndGlyphs">% Off Ig replacement</text>
<text transform="translate(213.40,363.3) scale(1.05,1)" font-size="12" font-weight="bold" fill="#000" stroke="#000" stroke-width="0.25">H</text>
<line x1="247.00" y1="368.10" x2="247.00" y2="537.30" stroke="#2a2a2a" stroke-width="1.4"/>
<line x1="244.00" y1="530.40" x2="247.00" y2="530.40" stroke="#2a2a2a" stroke-width="1.0"/>
<text x="240.80" y="532.86" font-size="8.2" text-anchor="end" font-weight="normal" fill="#1e1e1e">0</text>
<line x1="244.00" y1="494.15" x2="247.00" y2="494.15" stroke="#2a2a2a" stroke-width="1.0"/>
<text x="240.80" y="496.61" font-size="8.2" text-anchor="end" font-weight="normal" fill="#1e1e1e">25</text>
<line x1="244.00" y1="457.90" x2="247.00" y2="457.90" stroke="#2a2a2a" stroke-width="1.0"/>
<text x="240.80" y="460.36" font-size="8.2" text-anchor="end" font-weight="normal" fill="#1e1e1e">50</text>
<line x1="244.00" y1="421.65" x2="247.00" y2="421.65" stroke="#2a2a2a" stroke-width="1.0"/>
<text x="240.80" y="424.11" font-size="8.2" text-anchor="end" font-weight="normal" fill="#1e1e1e">75</text>
<line x1="244.00" y1="385.40" x2="247.00" y2="385.40" stroke="#2a2a2a" stroke-width="1.0"/>
<text x="240.80" y="387.86" font-size="8.2" text-anchor="end" font-weight="normal" fill="#1e1e1e">100</text>
<line x1="246.30" y1="537.30" x2="429.60" y2="537.30" stroke="#2a2a2a" stroke-width="1.4"/>
<line x1="273.60" y1="537.30" x2="273.60" y2="540.30" stroke="#2a2a2a" stroke-width="1.0"/>
<line x1="319.60" y1="537.30" x2="319.60" y2="540.30" stroke="#2a2a2a" stroke-width="1.0"/>
<line x1="365.30" y1="537.30" x2="365.30" y2="540.30" stroke="#2a2a2a" stroke-width="1.0"/>
<line x1="411.10" y1="537.30" x2="411.10" y2="540.30" stroke="#2a2a2a" stroke-width="1.0"/>
<rect x="261.30" y="518.23" width="24.60" height="11.87" fill="#3cb44c" stroke="#2c9c3b" stroke-width="0.6"/>
<rect x="261.30" y="501.70" width="24.60" height="15.93" fill="#c5132f" stroke="#a50b25" stroke-width="0.6"/>
<rect x="261.30" y="385.70" width="24.60" height="115.40" fill="#125184" stroke="#0c416f" stroke-width="0.6"/>
<rect x="307.30" y="425.28" width="24.60" height="104.82" fill="#3cb44c" stroke="#2c9c3b" stroke-width="0.6"/>
<rect x="307.30" y="412.09" width="24.60" height="12.59" fill="#c5132f" stroke="#a50b25" stroke-width="0.6"/>
<rect x="307.30" y="385.70" width="24.60" height="25.79" fill="#125184" stroke="#0c416f" stroke-width="0.6"/>
<rect x="353.00" y="417.89" width="24.60" height="112.21" fill="#3cb44c" stroke="#2c9c3b" stroke-width="0.6"/>
<rect x="353.00" y="385.70" width="24.60" height="31.59" fill="#125184" stroke="#0c416f" stroke-width="0.6"/>
<rect x="398.80" y="482.42" width="24.60" height="47.68" fill="#3cb44c" stroke="#2c9c3b" stroke-width="0.6"/>
<rect x="398.80" y="385.70" width="24.60" height="96.12" fill="#c5132f" stroke="#a50b25" stroke-width="0.6"/>
<text x="273.60" y="550.10" font-size="8.3" text-anchor="middle" font-weight="normal" fill="#1e1e1e">DX</text>
<text x="274.60" y="560.60" font-size="8.3" text-anchor="middle" font-weight="normal" fill="#1e1e1e">N=35</text>
<text x="319.60" y="550.10" font-size="8.3" text-anchor="middle" font-weight="normal" fill="#1e1e1e">6 mo</text>
<text x="320.60" y="560.60" font-size="8.3" text-anchor="middle" font-weight="normal" fill="#1e1e1e">N=11</text>
<text x="365.30" y="550.10" font-size="8.3" text-anchor="middle" font-weight="normal" fill="#1e1e1e" textLength="12.8" lengthAdjust="spacingAndGlyphs">1 yr</text>
<text x="366.30" y="560.60" font-size="8.3" text-anchor="middle" font-weight="normal" fill="#1e1e1e">N=9</text>
<text x="411.10" y="550.10" font-size="8.3" text-anchor="middle" font-weight="normal" fill="#1e1e1e" textLength="25.6" lengthAdjust="spacingAndGlyphs">2–5 yrs</text>
<text x="412.10" y="560.60" font-size="8.3" text-anchor="middle" font-weight="normal" fill="#1e1e1e">N=3</text>
<text x="338.00" y="574.00" font-size="9.2" text-anchor="middle" font-weight="normal" fill="#1e1e1e" textLength="14.0" lengthAdjust="spacingAndGlyphs">PHA</text>
<text transform="translate(222.2,452.5) rotate(-90)" font-size="9.5" text-anchor="middle" fill="#1e1e1e" textLength="75.3" lengthAdjust="spacingAndGlyphs">Group distribution (%)</text>
<rect x="431.10" y="442.30" width="5.10" height="5.10" fill="#125184"/>
<text x="439.90" y="447.50" font-size="7.65" text-anchor="start" font-weight="normal" fill="#1e1e1e">&lt;10% of lower level</text>
<rect x="431.10" y="455.30" width="5.10" height="5.10" fill="#c5132f"/>
<text x="439.90" y="460.50" font-size="7.65" text-anchor="start" font-weight="normal" fill="#1e1e1e">10–30% of lower level</text>
<rect x="431.10" y="468.30" width="5.10" height="5.10" fill="#3cb44c"/>
<text x="439.90" y="473.50" font-size="7.65" text-anchor="start" font-weight="normal" fill="#1e1e1e">&gt;30% of lower level</text>
<rect x="0.00" y="0.00" width="520.00" height="1.10" fill="#000"/>
<rect x="0.00" y="0.00" width="1.10" height="581.00" fill="#000"/>
<rect x="518.80" y="0.00" width="1.20" height="581.00" fill="#000"/>
<rect x="0.00" y="579.70" width="520.00" height="1.30" fill="#000"/>
</svg></div>
</body></html>
